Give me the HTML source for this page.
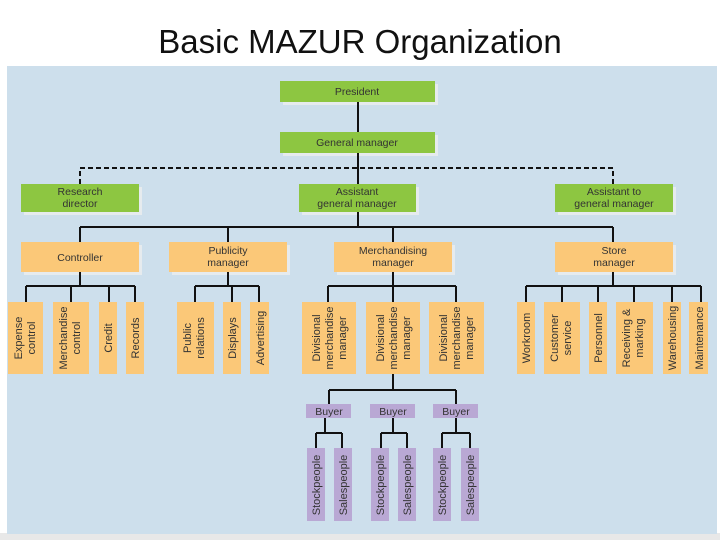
<!DOCTYPE html>
<html><head><meta charset="utf-8"><style>
html,body{margin:0;padding:0;background:#fff;}
svg{display:block;}
text{font-family:"Liberation Sans",sans-serif;fill:#333;}
</style></head><body>
<svg width="720" height="540" xmlns="http://www.w3.org/2000/svg">
<text x="360" y="53" text-anchor="middle" font-size="33" style="fill:#111">Basic MAZUR Organization</text>
<rect x="0" y="533" width="720" height="7" fill="#e8e8e8"/>
<rect x="7" y="66" width="710" height="468" fill="#cddfec"/>
<g fill="#e6ebee">
<rect x="283" y="84" width="155" height="21"/><rect x="283" y="135" width="155" height="21"/>
<rect x="24" y="187" width="118" height="28"/><rect x="302" y="187" width="117" height="28"/><rect x="558" y="187" width="118" height="28"/>
<rect x="24" y="245" width="118" height="30"/><rect x="172" y="245" width="118" height="30"/><rect x="337" y="245" width="118" height="30"/><rect x="558" y="245" width="118" height="30"/>
</g>
<g stroke="#111" stroke-width="2" fill="none">
<path d="M358 102V185M80 227H613M80 227V242M228 227V242M393 227V242M613 227V242M358 212V227"/>
<path d="M80 272V286M26 286H135M26 286V302M71 286V302M109 286V302M135 286V302"/>
<path d="M228 272V286M195 286H259M195 286V302M232 286V302M259 286V302"/>
<path d="M393 272V286M328 286H456M328 286V302M393 286V302M456 286V302"/>
<path d="M613 272V286M526 286H701M526 286V302M562 286V302M598 286V302M634 286V302M672 286V302M701 286V302"/>
<path d="M393 373V390M329 390H456M329 390V404M456 390V404"/>
<path d="M325 417V433M316 433H342M316 433V448M342 433V448"/>
<path d="M393 417V433M381 433H407M381 433V448M407 433V448"/>
<path d="M456 417V433M442 433H470M442 433V448M470 433V448"/>
<path d="M80 184V168H613V184" stroke-dasharray="5,3"/>
</g>
<g fill="#8dc641">
<rect x="280" y="81" width="155" height="21"/><rect x="280" y="132" width="155" height="21"/>
<rect x="21" y="184" width="118" height="28"/><rect x="299" y="184" width="117" height="28"/><rect x="555" y="184" width="118" height="28"/>
</g>
<g fill="#fbc878">
<rect x="21" y="242" width="118" height="30"/><rect x="169" y="242" width="118" height="30"/><rect x="334" y="242" width="118" height="30"/><rect x="555" y="242" width="118" height="30"/>
<rect x="8" y="302" width="35" height="72"/><rect x="53" y="302" width="36" height="72"/><rect x="99" y="302" width="18" height="72"/><rect x="126" y="302" width="18" height="72"/>
<rect x="177" y="302" width="37" height="72"/><rect x="223" y="302" width="18" height="72"/><rect x="250" y="302" width="19" height="72"/>
<rect x="302" y="302" width="54" height="72"/><rect x="366" y="302" width="54" height="72"/><rect x="429" y="302" width="55" height="72"/>
<rect x="517" y="302" width="18" height="72"/><rect x="544" y="302" width="36" height="72"/><rect x="589" y="302" width="18" height="72"/><rect x="616" y="302" width="37" height="72"/><rect x="663" y="302" width="18" height="72"/><rect x="689" y="302" width="19" height="72"/>
</g>
<g fill="#b9a8d4">
<rect x="306" y="404" width="45" height="14"/><rect x="370" y="404" width="45" height="14"/><rect x="433" y="404" width="45" height="14"/>
<rect x="307" y="448" width="18" height="73"/><rect x="334" y="448" width="18" height="73"/>
<rect x="371" y="448" width="18" height="73"/><rect x="398" y="448" width="18" height="73"/>
<rect x="433" y="448" width="18" height="73"/><rect x="461" y="448" width="18" height="73"/>
</g>
<g font-size="10.5" text-anchor="middle">
<text x="357" y="95">President</text><text x="357" y="146">General manager</text>
<text x="80" y="195">Research</text><text x="80" y="207">director</text>
<text x="357" y="195">Assistant</text><text x="357" y="207">general manager</text>
<text x="614" y="195">Assistant to</text><text x="614" y="207">general manager</text>
<text x="80" y="261">Controller</text>
<text x="228" y="254">Publicity</text><text x="228" y="266">manager</text>
<text x="393" y="254">Merchandising</text><text x="393" y="266">manager</text>
<text x="614" y="254">Store</text><text x="614" y="266">manager</text>
<text x="329" y="415">Buyer</text><text x="393" y="415">Buyer</text><text x="456" y="415">Buyer</text>
</g>
<g font-size="11" text-anchor="middle">
<text transform="translate(22,338) rotate(-90)">Expense</text><text transform="translate(35,338) rotate(-90)">control</text>
<text transform="translate(67,338) rotate(-90)">Merchandise</text><text transform="translate(80,338) rotate(-90)">control</text>
<text transform="translate(112,338) rotate(-90)">Credit</text>
<text transform="translate(139,338) rotate(-90)">Records</text>
<text transform="translate(191,338) rotate(-90)">Public</text><text transform="translate(204,338) rotate(-90)">relations</text>
<text transform="translate(236,338) rotate(-90)">Displays</text>
<text transform="translate(264,338) rotate(-90)">Advertising</text>
<text transform="translate(320,338) rotate(-90)">Divisional</text><text transform="translate(333,338) rotate(-90)">merchandise</text><text transform="translate(346,338) rotate(-90)">manager</text>
<text transform="translate(384,338) rotate(-90)">Divisional</text><text transform="translate(397,338) rotate(-90)">merchandise</text><text transform="translate(410,338) rotate(-90)">manager</text>
<text transform="translate(447,338) rotate(-90)">Divisional</text><text transform="translate(460,338) rotate(-90)">merchandise</text><text transform="translate(473,338) rotate(-90)">manager</text>
<text transform="translate(530,338) rotate(-90)">Workroom</text>
<text transform="translate(558,338) rotate(-90)">Customer</text><text transform="translate(571,338) rotate(-90)">service</text>
<text transform="translate(602,338) rotate(-90)">Personnel</text>
<text transform="translate(630,338) rotate(-90)">Receiving &amp;</text><text transform="translate(643,338) rotate(-90)">marking</text>
<text transform="translate(676,338) rotate(-90)">Warehousing</text>
<text transform="translate(703,338) rotate(-90)">Maintenance</text>
<text transform="translate(320,485) rotate(-90)">Stockpeople</text><text transform="translate(347,485) rotate(-90)">Salespeople</text>
<text transform="translate(384,485) rotate(-90)">Stockpeople</text><text transform="translate(411,485) rotate(-90)">Salespeople</text>
<text transform="translate(446,485) rotate(-90)">Stockpeople</text><text transform="translate(474,485) rotate(-90)">Salespeople</text>
</g>
</svg>
</body></html>
